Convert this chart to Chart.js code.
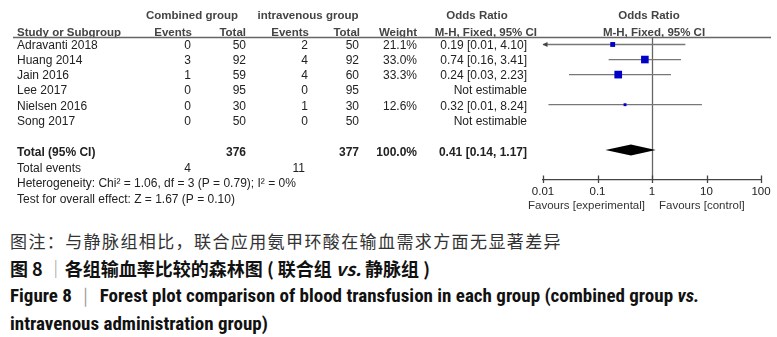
<!DOCTYPE html>
<html><head><meta charset="utf-8">
<script src="https://cdn.jsdelivr.net/npm/chart.js@4.4.0/dist/chart.umd.min.js"></script>
<style>
html,body{margin:0;padding:0;background:#fff;width:777px;height:337px;overflow:hidden;}
#wrap{position:absolute;left:0;top:0;width:777px;height:215px;}
.cap{position:absolute;left:10px;white-space:nowrap;line-height:1;}
#c1{top:232px;font-family:"Noto Sans CJK SC";font-size:17px;letter-spacing:1.4px;color:#333;}
#c2{top:259px;font-family:"Noto Sans CJK SC";font-size:18px;font-weight:bold;color:#111;}
#c3{top:286px;font-family:"Roboto Condensed","Liberation Sans Narrow","Liberation Sans",sans-serif;font-size:19px;font-weight:bold;color:#111;}
#c4{top:314px;font-family:"Roboto Condensed","Liberation Sans Narrow","Liberation Sans",sans-serif;font-size:19px;font-weight:bold;color:#111;}
.bar{font-weight:normal;color:#999;}
</style></head>
<body>
<div id="wrap"><canvas id="cv" width="777" height="215"></canvas></div>
<div class="cap" id="c1">图注：与静脉组相比，联合应用氨甲环酸在输血需求方面无显著差异</div>
<div class="cap" id="c2">图 8 <span class="bar">｜</span>各组输血率比较的森林图 ( 联合组 <i>vs.</i> 静脉组 )</div>
<div class="cap" id="c3">Figure 8 <span class="bar">｜</span> Forest plot comparison of blood transfusion in each group (combined group <i>vs.</i></div>
<div class="cap" id="c4">intravenous administration group)</div>
<script>
// ---- data ----
const studies = ['Adravanti 2018','Huang 2014','Jain 2016','Lee 2017','Nielsen 2016','Song 2017'];
const combEvents = [0,3,1,0,0,0];
const combTotal = [50,92,59,95,30,50];
const ivEvents = [2,4,4,0,1,0];
const ivTotal = [50,92,60,95,30,50];
const weights = [21.1,33.0,33.3,null,12.6,null];
const oddsRatio = [0.19,0.74,0.24,null,0.32,null];
const ciLower = [0.009,0.16,0.03,null,0.0126,null];
const ciUpper = [4.10,3.41,2.23,null,8.24,null];
const totalComb = 376, totalIv = 377, totalWeight = '100.0%';
const totalEventsComb = 4, totalEventsIv = 11;
const pooledOR = 0.41, pooledLower = 0.14, pooledUpper = 1.17;
const heterogeneityText = 'Heterogeneity: Chi² = 1.06, df = 3 (P = 0.79); I² = 0%';
const overallText = 'Test for overall effect: Z = 1.67 (P = 0.10)';
const xTicks = [0.01,0.1,1,10,100];
const tickLabels = ['0.01','0.1','1','10','100'];
const favourLeft = 'Favours [experimental]';
const favourRight = 'Favours [control]';

const FONT = '"Liberation Sans", Arial, sans-serif';
const fmt = v => v.toFixed(2);
const orText = i => oddsRatio[i]==null ? 'Not estimable' : `${fmt(oddsRatio[i])} [${fmt(ciLower[i])}, ${fmt(ciUpper[i])}]`;

const points = [];
studies.forEach((s,i)=>{ if(oddsRatio[i]!=null) points.push({x:oddsRatio[i], y:i, w:weights[i]}); });

const forest = {
  id:'forest',
  beforeDatasetsDraw(chart){
    const c = chart.ctx, xs = chart.scales.x, ys = chart.scales.y, a = chart.chartArea;
    c.save();
    c.strokeStyle = '#666'; c.lineWidth = 1.3;
    const x1 = Math.round(xs.getPixelForValue(1))+0.5;
    c.beginPath(); c.moveTo(x1, a.top); c.lineTo(x1, a.bottom); c.stroke();
    studies.forEach((s,i)=>{
      if(oddsRatio[i]==null) return;
      const y = ys.getPixelForValue(i);
      const lo = Math.max(ciLower[i], xs.min), hi = Math.min(ciUpper[i], xs.max);
      const xl = xs.getPixelForValue(lo), xh = xs.getPixelForValue(hi);
      c.strokeStyle = '#777';
      c.beginPath(); c.moveTo(xl, y); c.lineTo(xh, y); c.stroke();
      if(ciLower[i] < xs.min){
        c.fillStyle = '#444';
        c.beginPath(); c.moveTo(xl-0.5, y); c.lineTo(xl+4.5, y-2.5); c.lineTo(xl+4.5, y+2.5); c.closePath(); c.fill();
      }
    });
    c.restore();
  },
  afterDatasetsDraw(chart){
    const c = chart.ctx, xs = chart.scales.x, ys = chart.scales.y, a = chart.chartArea;
    c.save();
    const yt = ys.getPixelForValue(7);
    c.fillStyle = '#000';
    c.beginPath();
    c.moveTo(xs.getPixelForValue(pooledLower), yt);
    c.lineTo(xs.getPixelForValue(pooledOR), yt-5.5);
    c.lineTo(xs.getPixelForValue(pooledUpper), yt);
    c.lineTo(xs.getPixelForValue(pooledOR), yt+5.5);
    c.closePath(); c.fill();
    c.strokeStyle = '#444'; c.lineWidth = 1.3;
    xTicks.forEach(v=>{
      const x = Math.round(xs.getPixelForValue(v))+0.5;
      c.beginPath(); c.moveTo(x, a.bottom-4.5); c.lineTo(x, a.bottom+3); c.stroke();
    });
    const T = (str,x,y,align,bold,color,size)=>{
      c.font = (bold?'bold ':'') + (size||12) + 'px ' + FONT;
      c.fillStyle = color || '#222';
      c.textAlign = align || 'left';
      c.textBaseline = 'middle';
      c.fillText(str, x, y);
    };
    const HC = '#444';
    T('Combined group', 192, 15.5, 'center', true, HC, 11.5);
    T('intravenous group', 308, 15.5, 'center', true, HC, 11.5);
    T('Odds Ratio', 477, 15.5, 'center', true, HC, 11.5);
    T('Odds Ratio', 649, 15.5, 'center', true, HC, 11.5);
    T('Study or Subgroup', 17, 32.5, 'left', true, HC, 11.5);
    T('Events', 192, 32.5, 'right', true, HC, 11.5);
    T('Total', 246, 32.5, 'right', true, HC, 11.5);
    T('Events', 309, 32.5, 'right', true, HC, 11.5);
    T('Total', 360, 32.5, 'right', true, HC, 11.5);
    T('Weight', 417, 32.5, 'right', true, HC, 11.5);
    T('M-H, Fixed, 95% CI', 537, 32.5, 'right', true, HC, 11.5);
    T('M-H, Fixed, 95% CI', 654, 32.5, 'center', true, HC, 11.5);
    c.strokeStyle = '#666'; c.lineWidth = 1.6;
    c.beginPath(); c.moveTo(13, 37.5); c.lineTo(771, 37.5); c.stroke();
    studies.forEach((s,i)=>{
      const y = ys.getPixelForValue(i) + 1.5;
      T(s, 17, y);
      T(String(combEvents[i]), 191, y, 'right');
      T(String(combTotal[i]), 246, y, 'right');
      T(String(ivEvents[i]), 308, y, 'right');
      T(String(ivTotal[i]), 359, y, 'right');
      if(weights[i]!=null) T(weights[i].toFixed(1)+'%', 417, y, 'right');
      T(orText(i), 527, y, 'right');
    });
    const y7 = ys.getPixelForValue(7) + 2.5;
    T('Total (95% CI)', 17, y7, 'left', true);
    T(String(totalComb), 246, y7, 'right', true);
    T(String(totalIv), 359, y7, 'right', true);
    T(totalWeight, 417, y7, 'right', true);
    T(`${fmt(pooledOR)} [${fmt(pooledLower)}, ${fmt(pooledUpper)}]`, 527, y7, 'right', true);
    const y8 = ys.getPixelForValue(8) + 3.5;
    T('Total events', 17, y8);
    T(String(totalEventsComb), 191, y8, 'right');
    T(String(totalEventsIv), 305, y8, 'right');
    T(heterogeneityText, 17, ys.getPixelForValue(9) + 4);
    T(overallText, 17, ys.getPixelForValue(10) + 4.5);
    T(favourLeft, 645, 206, 'right', false, '#333', 11.5);
    T(favourRight, 659, 206, 'left', false, '#333', 11.5);
    c.restore();
  }
};

new Chart(document.getElementById('cv'), {
  type:'scatter',
  data:{ datasets:[{
    data: points,
    pointStyle:'rect',
    pointRadius: ctx => ctx.raw ? ctx.raw.w*0.163 : 0,
    pointHoverRadius: ctx => ctx.raw ? ctx.raw.w*0.163 : 0,
    backgroundColor:'#0000c8',
    borderWidth:0,
    clip:false
  }]},
  options:{
    responsive:false,
    animation:false,
    devicePixelRatio:1,
    layout:{padding:{left:543, right:16, top:38, bottom:0}},
    plugins:{legend:{display:false}, tooltip:{enabled:false}},
    events:[],
    scales:{
      x:{
        type:'logarithmic', min:0.01, max:100,
        afterBuildTicks: s => { s.ticks = xTicks.map(v=>({value:v})); },
        afterFit: s => { s.height = 35; },
        ticks:{ autoSkip:false, maxRotation:0, padding:5, color:'#222',
          font:{family:FONT, size:11.5},
          callback:(v,i)=>tickLabels[i] },
        grid:{display:false, drawTicks:false},
        border:{display:true, color:'#444', width:1.3}
      },
      y:{ type:'linear', min:-0.43, max:9, reverse:true, display:false }
    }
  },
  plugins:[forest]
});
</script>
</body></html>
